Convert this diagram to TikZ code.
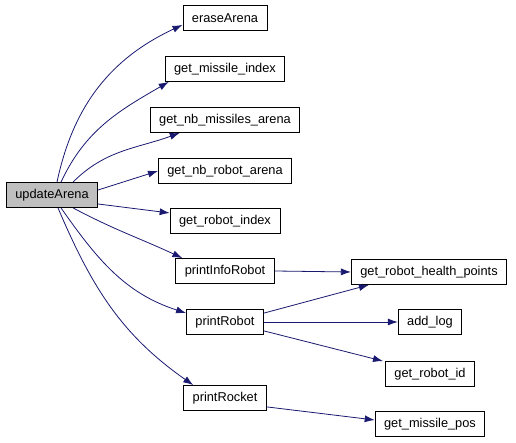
\documentclass[tikz,border=0pt]{standalone}
\usepackage{xcolor}
\usepackage{fontspec}
\setmainfont{Liberation Sans}
\usepackage{tikz}
\usetikzlibrary{arrows.meta}
\tikzset{>={Latex[length=10pt,width=7pt]}}
\definecolor{edgeblue}{HTML}{191970}

\begin{document}
\begin{tikzpicture}[x=1pt, y=1pt,
    fn/.style={draw=black, line width=0.8pt, minimum height=25pt, inner xsep=9pt,
               font=\fontsize{12.8}{14}\selectfont},
    call/.style={->, draw=edgeblue, line width=0.8pt}]
   \useasboundingbox (0, 0) rectangle (516, 443);

   % caller
   \node[fn, fill=black!25] (upd) at (52, 248) {updateArena};

   % called by updateArena
   \node[fn] (erase) at (225, 425) {eraseArena};
   \node[fn] (gmi) at (225, 374) {get\_missile\_index};
   \node[fn] (gnma) at (225, 323) {get\_nb\_missiles\_arena};
   \node[fn] (gnra) at (225, 272) {get\_nb\_robot\_arena};
   \node[fn] (gri) at (225, 222) {get\_robot\_index};
   \node[fn] (pir) at (225, 172) {printInfoRobot};
   \node[fn] (pr) at (225, 121) {printRobot};
   \node[fn] (proc) at (225, 45) {printRocket};

   % second level
   \node[fn] (grhp) at (429, 171) {get\_robot\_health\_points};
   \node[fn] (alog) at (430, 121) {add\_log};
   \node[fn] (grid) at (430, 69) {get\_robot\_id};
   \node[fn] (gmp) at (430, 19) {get\_missile\_pos};

   % edges
   \draw[call] ([xshift=5pt]upd.north) to[out=78, in=205] ([yshift=6pt]erase.south west);
   \draw[call] ([xshift=9pt]upd.north) to[out=65, in=210] ([xshift=4pt]gmi.south west);
   \draw[call] ([xshift=21pt]upd.north) to[out=45, in=200] ([xshift=30pt]gnma.south west);
   \draw[call] ([yshift=5pt]upd.east) -- (gnra.west);
   \draw[call] ([yshift=-9pt]upd.east) -- ([yshift=8pt]gri.west);
   \draw[call] ([xshift=21pt]upd.south) to[out=-28, in=155] ([xshift=7pt]pir.north west);
   \draw[call] ([xshift=9pt]upd.south) to[out=-55, in=162] ([yshift=-4pt]pr.north west);
   \draw[call] ([xshift=6pt]upd.south) to[out=-67, in=145] ([xshift=10pt]proc.north west);

   \draw[call] (pir.east) -- (grhp.west);
   \draw[call] ([yshift=-4pt]pr.north east) -- ([xshift=18pt]grhp.south west);
   \draw[call] (pr.east) -- (alog.west);
   \draw[call] ([yshift=4pt]pr.south east) -- ([xshift=-2pt]grid.north west);
   \draw[call] ([yshift=4pt]proc.south east) -- ([yshift=4pt]gmp.west);
\end{tikzpicture}
\end{document}
